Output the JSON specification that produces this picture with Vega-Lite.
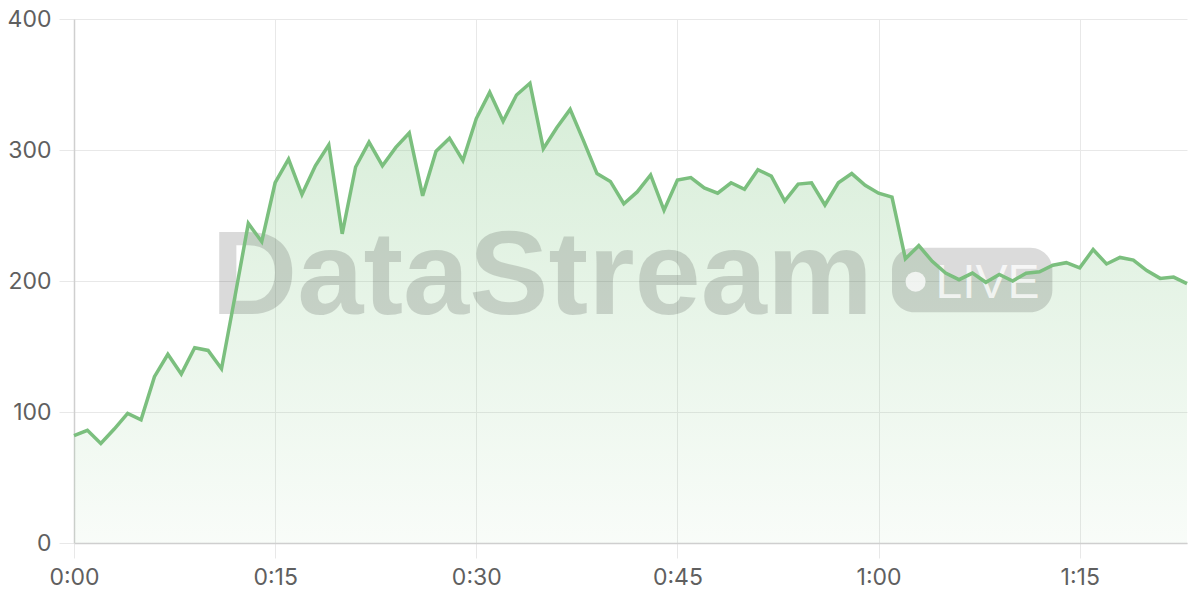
{
  "$schema": "https://vega.github.io/schema/vega-lite/v6.json",
  "width": 1113,
  "height": 524,
  "autosize": {"type": "none"},
  "padding": {"left": 74, "top": 19, "right": 13, "bottom": 57},
  "background": "white",
  "config": {"view": {"stroke": null}, "font": "Inter"},
  "datasets": {
    "series": [
      {"minute": 0, "value": 82}, {"minute": 1, "value": 86}, {"minute": 2, "value": 76}, {"minute": 3, "value": 87},
      {"minute": 4, "value": 99}, {"minute": 5, "value": 94}, {"minute": 6, "value": 127}, {"minute": 7, "value": 144},
      {"minute": 8, "value": 129}, {"minute": 9, "value": 149}, {"minute": 10, "value": 147}, {"minute": 11, "value": 133},
      {"minute": 12, "value": 188}, {"minute": 13, "value": 244}, {"minute": 14, "value": 230}, {"minute": 15, "value": 275},
      {"minute": 16, "value": 293}, {"minute": 17, "value": 266}, {"minute": 18, "value": 288}, {"minute": 19, "value": 304},
      {"minute": 20, "value": 236}, {"minute": 21, "value": 287}, {"minute": 22, "value": 306}, {"minute": 23, "value": 288},
      {"minute": 24, "value": 302}, {"minute": 25, "value": 313}, {"minute": 26, "value": 265}, {"minute": 27, "value": 299},
      {"minute": 28, "value": 309}, {"minute": 29, "value": 292}, {"minute": 30, "value": 324}, {"minute": 31, "value": 344},
      {"minute": 32, "value": 322}, {"minute": 33, "value": 342}, {"minute": 34, "value": 351}, {"minute": 35, "value": 301},
      {"minute": 36, "value": 317}, {"minute": 37, "value": 331}, {"minute": 38, "value": 307}, {"minute": 39, "value": 282},
      {"minute": 40, "value": 276}, {"minute": 41, "value": 259}, {"minute": 42, "value": 268}, {"minute": 43, "value": 281},
      {"minute": 44, "value": 254}, {"minute": 45, "value": 277}, {"minute": 46, "value": 279}, {"minute": 47, "value": 271},
      {"minute": 48, "value": 267}, {"minute": 49, "value": 275}, {"minute": 50, "value": 270}, {"minute": 51, "value": 285},
      {"minute": 52, "value": 280}, {"minute": 53, "value": 261}, {"minute": 54, "value": 274}, {"minute": 55, "value": 275},
      {"minute": 56, "value": 258}, {"minute": 57, "value": 275}, {"minute": 58, "value": 282}, {"minute": 59, "value": 273},
      {"minute": 60, "value": 267}, {"minute": 61, "value": 264}, {"minute": 62, "value": 217}, {"minute": 63, "value": 227},
      {"minute": 64, "value": 215}, {"minute": 65, "value": 206}, {"minute": 66, "value": 201}, {"minute": 67, "value": 206},
      {"minute": 68, "value": 199}, {"minute": 69, "value": 205}, {"minute": 70, "value": 200}, {"minute": 71, "value": 206},
      {"minute": 72, "value": 207}, {"minute": 73, "value": 212}, {"minute": 74, "value": 214}, {"minute": 75, "value": 210},
      {"minute": 76, "value": 224}, {"minute": 77, "value": 213}, {"minute": 78, "value": 218}, {"minute": 79, "value": 216},
      {"minute": 80, "value": 208}, {"minute": 81, "value": 202}, {"minute": 82, "value": 203}, {"minute": 83, "value": 198}
    ],
    "brand": [{"name": "DataStream", "tag": "LIVE"}]
  },
  "layer": [
    {
      "data": {"name": "series"},
      "mark": {
        "type": "area",
        "interpolate": "linear",
        "color": {
          "gradient": "linear",
          "x1": 0, "y1": 0, "x2": 0, "y2": 1,
          "stops": [
            {"offset": 0, "color": "rgba(129,199,132,0.32)"},
            {"offset": 1, "color": "rgba(129,199,132,0.05)"}
          ]
        }
      },
      "encoding": {
        "x": {
          "field": "minute", "type": "quantitative",
          "scale": {"domain": [0, 83], "nice": false, "zero": false},
          "axis": {
            "title": null,
            "values": [0, 15, 30, 45, 60, 75],
            "labelExpr": "floor(datum.value/60) + ':' + (datum.value%60 < 10 ? '0' : '') + (datum.value%60)",
            "labelFlush": false,
            "grid": true, "gridColor": "#e8e8e8", "gridWidth": 1,
            "domainColor": "#cfcfcf", "domainWidth": 1.5,
            "tickColor": "#e8e8e8", "tickSize": 15, "tickWidth": 1,
            "labelFontSize": 23, "labelColor": "#5f5f5f", "labelPadding": 8,
            "labelFont": "Inter"
          }
        },
        "y": {
          "field": "value", "type": "quantitative",
          "scale": {"domain": [0, 400], "nice": false},
          "axis": {
            "title": null,
            "values": [0, 100, 200, 300, 400],
            "labelFlush": false,
            "grid": true, "gridColor": "#e8e8e8", "gridWidth": 1,
            "domainColor": "#cfcfcf", "domainWidth": 1.5,
            "tickColor": "#e8e8e8", "tickSize": 15, "tickWidth": 1,
            "labelFontSize": 23, "labelColor": "#5f5f5f", "labelPadding": 8,
            "labelFont": "Inter"
          }
        }
      }
    },
    {
      "data": {"name": "brand"},
      "mark": {
        "type": "text", "font": "Liberation Sans", "fontWeight": "bold",
        "fontSize": 119, "align": "center", "baseline": "alphabetic",
        "fill": "#000000", "opacity": 0.14
      },
      "encoding": {
        "text": {"field": "name"},
        "x": {"datum": 34.9, "type": "quantitative"},
        "y": {"datum": 174.8, "type": "quantitative"}
      }
    },
    {
      "data": {"name": "brand"},
      "mark": {"type": "rect", "cornerRadius": 22, "fill": "#000000", "opacity": 0.14},
      "encoding": {
        "x": {"datum": 61.0, "type": "quantitative"},
        "x2": {"datum": 72.96},
        "y": {"datum": 225.4, "type": "quantitative"},
        "y2": {"datum": 176.1}
      }
    },
    {
      "data": {"name": "brand"},
      "mark": {"type": "point", "shape": "circle", "filled": true, "size": 400, "fill": "#ffffff", "opacity": 0.75, "strokeWidth": 0},
      "encoding": {
        "x": {"datum": 62.76, "type": "quantitative"},
        "y": {"datum": 199.5, "type": "quantitative"}
      }
    },
    {
      "data": {"name": "brand"},
      "mark": {
        "type": "text", "font": "Liberation Sans", "fontWeight": "normal",
        "fontSize": 48, "align": "center", "baseline": "alphabetic",
        "fill": "#ffffff", "opacity": 0.75
      },
      "encoding": {
        "text": {"field": "tag"},
        "x": {"datum": 68.13, "type": "quantitative"},
        "y": {"datum": 187.3, "type": "quantitative"}
      }
    },
    {
      "data": {"name": "series"},
      "mark": {"type": "line", "interpolate": "linear", "color": "#7bbf7e", "strokeWidth": 3.5, "strokeJoin": "miter"},
      "encoding": {
        "x": {"field": "minute", "type": "quantitative"},
        "y": {"field": "value", "type": "quantitative"}
      }
    }
  ]
}
